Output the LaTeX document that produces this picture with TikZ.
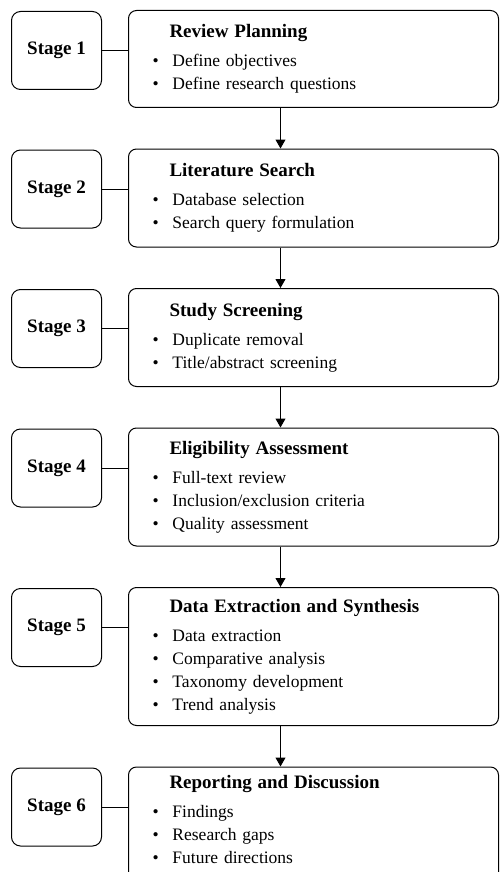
\documentclass[tikz,border=0pt]{standalone}
\usepackage{fontspec}
\setmainfont{Liberation Serif}
\usetikzlibrary{arrows.meta,positioning}

\newcommand{\phasetitle}[1]{\hspace*{18pt}{\fontsize{19}{23}\selectfont\bfseries #1}}
\newcommand{\pitem}[1]{\makebox[21pt][l]{\hspace*{1pt}\textbullet}#1}

\begin{document}
\begin{tikzpicture}[
      node distance=40.5pt,
      stagebox/.style={rectangle, draw, line width=1pt, rounded corners=9pt, minimum width=90pt, minimum height=78pt, font=\fontsize{19}{23}\selectfont\bfseries},
      phase/.style={rectangle, draw, line width=1pt, rounded corners=8pt, minimum width=370pt, text width=324pt, inner xsep=23pt, inner ysep=4pt, align=left, font=\fontsize{17.5}{23}\selectfont},
      link/.style={line width=1pt},
      arrow/.style={-{Triangle[length=9pt,width=10pt]}, line width=1pt}
    ]
      \useasboundingbox (0,0) rectangle (499pt,-872pt);
      \clip (0,0) rectangle (499pt,-872pt);

      \node[phase, minimum height=97pt, anchor=north west] (p1) at (128pt,-10pt) {\phasetitle{Review Planning}\\[6pt]\pitem{Define objectives}\\\pitem{Define research questions}};
      \node[phase, minimum height=98pt, below=of p1] (p2) {\phasetitle{Literature Search}\\[6pt]\pitem{Database selection}\\\pitem{Search query formulation}};
      \node[phase, minimum height=98pt, below=of p2] (p3) {\phasetitle{Study Screening}\\[6pt]\pitem{Duplicate removal}\\\pitem{Title/abstract screening}};
      \node[phase, minimum height=118pt, below=of p3] (p4) {\phasetitle{Eligibility Assessment}\\[6pt]\pitem{Full-text review}\\\pitem{Inclusion/exclusion criteria}\\\pitem{Quality assessment}};
      \node[phase, minimum height=138pt, below=of p4] (p5) {\phasetitle{Data Extraction and Synthesis}\\[6pt]\pitem{Data extraction}\\\pitem{Comparative analysis}\\\pitem{Taxonomy development}\\\pitem{Trend analysis}};
      % last box runs past the bottom edge, so its text sits a bit higher
      \node[phase, minimum height=118pt, below=of p5] (p6) {\phasetitle{Reporting and Discussion}\\[6pt]\pitem{Findings}\\\pitem{Research gaps}\\\pitem{Future directions}\\[-9pt]\mbox{}};

      \node[stagebox, below left=1pt and 26pt of p1.north west] (s1) {Stage 1};
      \node[stagebox, below left=1pt and 26pt of p2.north west] (s2) {Stage 2};
      \node[stagebox, below left=1pt and 26pt of p3.north west] (s3) {Stage 3};
      \node[stagebox, below left=1pt and 26pt of p4.north west] (s4) {Stage 4};
      \node[stagebox, below left=1pt and 26pt of p5.north west] (s5) {Stage 5};
      \node[stagebox, below left=1pt and 26pt of p6.north west] (s6) {Stage 6};

      \draw[link] (s1.east) -- (s1.east -| p1.west);
      \draw[link] (s2.east) -- (s2.east -| p2.west);
      \draw[link] (s3.east) -- (s3.east -| p3.west);
      \draw[link] (s4.east) -- (s4.east -| p4.west);
      \draw[link] (s5.east) -- (s5.east -| p5.west);
      \draw[link] (s6.east) -- (s6.east -| p6.west);

      \draw[arrow] ([xshift=-33pt]p1.south) -- ([xshift=-33pt]p2.north);
      \draw[arrow] ([xshift=-33pt]p2.south) -- ([xshift=-33pt]p3.north);
      \draw[arrow] ([xshift=-33pt]p3.south) -- ([xshift=-33pt]p4.north);
      \draw[arrow] ([xshift=-33pt]p4.south) -- ([xshift=-33pt]p5.north);
      \draw[arrow] ([xshift=-33pt]p5.south) -- ([xshift=-33pt]p6.north);
    \end{tikzpicture}
\end{document}
